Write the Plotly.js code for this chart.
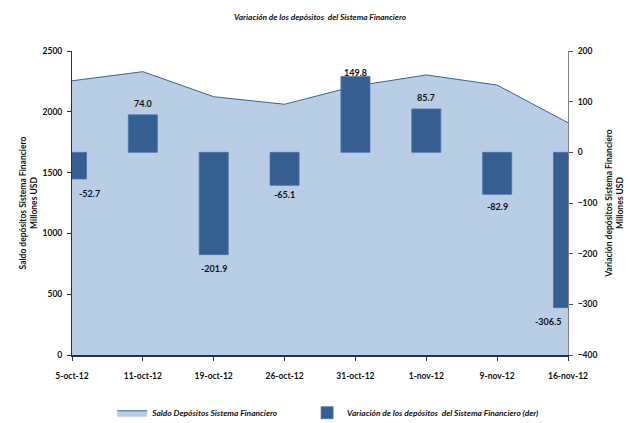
<!DOCTYPE html>
<html>
<head>
<meta charset="utf-8">
<script src="https://cdn.plot.ly/plotly-3.0.1.min.js"></script>
<style>html,body{margin:0;padding:0;background:#fff;}#chart{width:630px;height:423px;}</style>
</head>
<body>
<div id="chart"></div>
<script>
var categories = ["5-oct-12","11-oct-12","19-oct-12","26-oct-12","31-oct-12","1-nov-12","9-nov-12","16-nov-12"];
var saldo = [2255, 2330, 2124, 2062, 2212, 2303, 2220, 1910];
var variacion = [-52.7, 74.0, -201.9, -65.1, 149.8, 85.7, -82.9, -306.5];
var labelTexts = ["-52.7","74.0","-201.9","-65.1","149.8","85.7","-82.9","-306.5"];

var FONT = "Lato, 'Liberation Sans', Arial, sans-serif";
var W = "bold";

// label offsets (style only)
var labelYShift = [-14, 11, -14, -9, 4, 11, -12, -14];
var labelXShift = [17, 0, 0, 0, 0, 0, 0, -20];

var traces = [
  {
    type: "scatter", mode: "lines", x: categories, y: saldo,
    fill: "tozeroy", fillcolor: "#B9CDE5",
    line: {color: "#3A6399", width: 1},
    name: "Saldo Depósitos Sistema Financiero",
    legend: "legend",
    yaxis: "y", hoverinfo: "skip"
  },
  {
    type: "bar", x: categories, y: variacion, width: 0.41,
    marker: {color: "#355F91", line: {color: "#4A74A8", width: 0.8}},
    name: "Variación de los depósitos  del Sistema Financiero (der)",
    legend: "legend2",
    yaxis: "y2", hoverinfo: "skip"
  }
];

var annotations = categories.map(function(c, i){
  return {
    x: c, y: variacion[i], xref: "x", yref: "y2",
    text: labelTexts[i], showarrow: false,
    yanchor: "middle", xanchor: "center",
    yshift: labelYShift[i], xshift: labelXShift[i],
    font: {family: FONT, size: 9, color: "#111", weight: W}
  };
});
annotations.push({
  xref: "paper", yref: "paper", x: 0.5, y: 1, yanchor: "middle", yshift: 34,
  showarrow: false, text: "Variación de los depósitos  del Sistema Financiero",
  font: {family: FONT, size: 8.3, color: "#111", weight: W, style: "italic"}
});

var legendFont = {family: FONT, size: 8.4, color: "#111", weight: W, style: "italic"};

var layout = {
  width: 630, height: 423,
  margin: {l: 72, r: 62, t: 51, b: 68, autoexpand: false},
  paper_bgcolor: "#fff", plot_bgcolor: "#fff",
  showlegend: true,
  legend: {orientation: "h", x: 0.081, xanchor: "left", y: -0.19, yanchor: "middle",
    font: legendFont, bgcolor: "rgba(0,0,0,0)"},
  legend2: {orientation: "h", x: 0.474, xanchor: "left", y: -0.19, yanchor: "middle",
    font: legendFont, bgcolor: "rgba(0,0,0,0)"},
  xaxis: {
    type: "category", range: [0, 7], showgrid: false, zeroline: false,
    showline: true, linecolor: "#1F3354", linewidth: 2,
    ticks: "outside", ticklen: 4, tickcolor: "#333", tickwidth: 1,
    tickfont: {family: FONT, size: 8.5, color: "#111", weight: W},
    ticklabelstandoff: 8
  },
  yaxis: {
    range: [0, 2500], dtick: 500, showgrid: false, zeroline: false,
    showline: true, linecolor: "#333", linewidth: 1,
    ticks: "outside", ticklen: 4, tickcolor: "#333",
    tickfont: {family: FONT, size: 8.5, color: "#111", weight: W},
    ticklabelstandoff: 3,
    title: {text: "Saldo depósitos Sistema Financiero<br>Millones USD",
      font: {family: FONT, size: 8.5, color: "#111", weight: W}, standoff: 3}
  },
  yaxis2: {
    overlaying: "y", side: "right", range: [-400, 200], dtick: 100,
    showgrid: false, zeroline: false,
    showline: true, linecolor: "#808080", linewidth: 1,
    ticks: "outside", ticklen: 4, tickcolor: "#555",
    tickfont: {family: FONT, size: 8.5, color: "#111", weight: W},
    ticklabelstandoff: 3,
    title: {text: "Variación depósitos Sistema Financiero<br>Millones USD",
      font: {family: FONT, size: 8.5, color: "#111", weight: W}, standoff: 9}
  },
  annotations: annotations
};

Plotly.newPlot("chart", traces, layout, {staticPlot: true, displayModeBar: false});
</script>
</body>
</html>
